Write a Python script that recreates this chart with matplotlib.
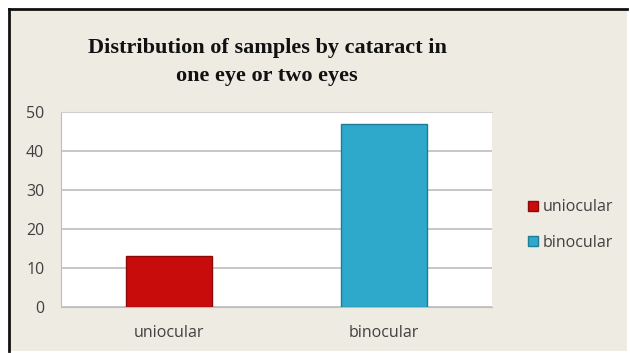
import matplotlib
matplotlib.use("Agg")
import matplotlib.pyplot as plt
from matplotlib.patches import Rectangle
from matplotlib.lines import Line2D

categories = ["uniocular", "binocular"]
counts = [13, 47]
colors = ["#C80C0C", "#2FA9CB"]
edge_colors = ["#8E0A0A", "#1F7C96"]
y_ticks = [0, 10, 20, 30, 40, 50]
title = "Distribution of samples by cataract in\none eye or two eyes"

W, H = 630, 353
fig = plt.figure(figsize=(W / 100, H / 100), dpi=100)
fig.patch.set_facecolor("white")

# beige chart frame with dark left/top edge
fig.patches.append(Rectangle((10 / W, 2 / H), 617 / W, 341 / H, transform=fig.transFigure,
                             facecolor="#EEEBE3", edgecolor="none", zorder=-2))
fig.lines.append(Line2D([9 / W, 9 / W], [2 / H, 1 - 9 / H], transform=fig.transFigure,
                        color="#111111", lw=2, zorder=-1))
fig.lines.append(Line2D([9 / W, 1 - 3 / W], [1 - 9 / H, 1 - 9 / H], transform=fig.transFigure,
                        color="#111111", lw=2, zorder=-1))

ax = fig.add_axes([61 / W, (H - 307) / H, 431 / W, 195 / H])
ax.set_facecolor("white")
x = range(len(categories))
bars = ax.bar(x, counts, width=0.4, color=colors, edgecolor=edge_colors, linewidth=1,
              label=categories, zorder=3)
ax.set_xlim(-0.5, 1.5)
ax.set_ylim(0, 50)
ax.set_yticks(y_ticks)
ax.set_xticks(list(x))
ax.set_xticklabels(categories)
ax.yaxis.grid(True, color="#BDBDBD", lw=1.2, zorder=0)
ax.spines["right"].set_visible(False)
ax.spines["left"].set_color("#BDBDBD")
ax.spines["bottom"].set_color("#BDBDBD")
ax.spines["top"].set_color("#D0D0D0")
ax.tick_params(length=0, labelsize=11.5, colors="#404040", pad=13)
ax.tick_params(axis="y", pad=12)
for lbl in ax.get_xticklabels() + ax.get_yticklabels():
    lbl.set_fontfamily("Open Sans")

fig.text(267 / W, 1 - 62 / H, title, ha="center", va="center", fontsize=16,
         fontweight="bold", family="Liberation Serif", linespacing=1.55, color="#111111")

leg = fig.legend(handles=bars, labels=categories, loc="center left",
                 bbox_to_anchor=(514 / W, 1 - 225 / H), frameon=False,
                 prop={"family": "Open Sans", "size": 11.5}, handlelength=0.6,
                 handleheight=0.6, handletextpad=0.3, labelspacing=1.2)
for t in leg.get_texts():
    t.set_color("#404040")

fig.savefig("out.png", dpi=100)
